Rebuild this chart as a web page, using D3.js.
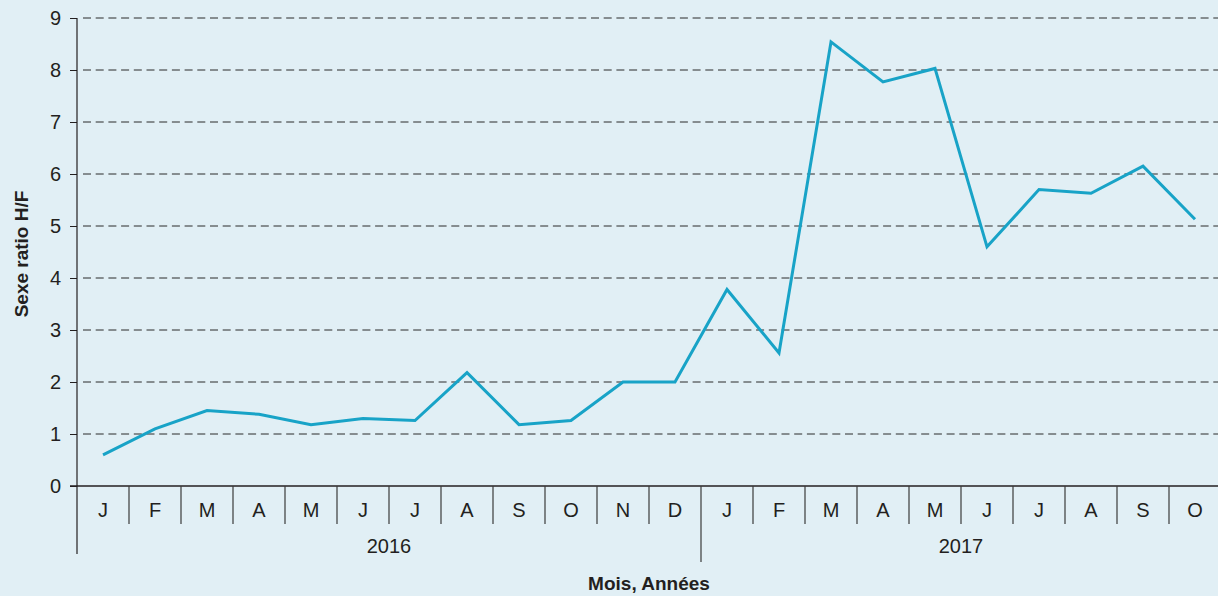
<!DOCTYPE html>
<html lang="fr">
<head>
<meta charset="UTF-8">
<title>Sexe ratio H/F</title>
<script src="https://cdn.jsdelivr.net/npm/d3@7"></script>
<style>
	body { margin: 0; background: #e1eff5; }
	svg { display: block; }
	text { font-family: "Liberation Sans Narrow", "Arial Narrow", "Liberation Sans", sans-serif; fill: #231f20; }
</style>
</head>
<body>
<div id="chart"></div>
<script>
	var months = ["J","F","M","A","M","J","J","A","S","O","N","D",
	              "J","F","M","A","M","J","J","A","S","O"];
	var years = [{label: "2016", count: 12}, {label: "2017", count: 10}];
	var ratio = [0.6, 1.1, 1.45, 1.38, 1.18, 1.3, 1.26, 2.18, 1.18, 1.26, 2.0, 2.0,
	             3.78, 2.56, 8.54, 7.77, 8.03, 4.6, 5.7, 5.63, 6.15, 5.13];
	var yTicks = [0, 1, 2, 3, 4, 5, 6, 7, 8, 9];

	var w = 1218, h = 596;
	var margin = {left: 77, top: 18};
	var bandW = 52;
	var plotH = 468;

	var svg = d3.select("#chart").append("svg")
		.attr("width", w).attr("height", h);

	svg.append("rect").attr("width", w).attr("height", h).attr("fill", "#e1eff5");

	var idx = months.map((d, i) => i);
	var x = d3.scaleBand()
		.domain(idx)
		.range([margin.left, margin.left + bandW * months.length]);
	var y = d3.scaleLinear()
		.domain([0, 9])
		.range([margin.top + plotH, margin.top]);

	// gridlines
	svg.append("g").selectAll("line")
		.data(yTicks.filter(d => d > 0))
		.enter().append("line")
		.attr("x1", margin.left + 6).attr("x2", w)
		.attr("y1", d => y(d)).attr("y2", d => y(d))
		.attr("stroke", "#2a2a2a")
		.attr("stroke-width", 1)
		.attr("stroke-dasharray", "8,4.7");

	// y axis
	var yAxis = svg.append("g")
		.attr("transform", `translate(${margin.left},0)`)
		.call(d3.axisLeft(y).tickValues(yTicks).tickSize(7).tickPadding(9).tickFormat(d3.format("d")));
	yAxis.select(".domain").remove();
	yAxis.selectAll(".tick line").attr("stroke", "#231f20");
	yAxis.selectAll(".tick text").style("font-size", "20px").attr("fill", "#231f20");
	svg.append("line")
		.attr("x1", margin.left).attr("x2", margin.left)
		.attr("y1", margin.top).attr("y2", 554)
		.attr("stroke", "#231f20").attr("stroke-width", 1.2);

	// x axis baseline
	var y0 = y(0);
	svg.append("line")
		.attr("x1", margin.left - 7).attr("x2", w)
		.attr("y1", y0).attr("y2", y0)
		.attr("stroke", "#231f20").attr("stroke-width", 1.5);

	// month separators
	svg.append("g").selectAll("line")
		.data(idx.slice(1))
		.enter().append("line")
		.attr("x1", d => x(d)).attr("x2", d => x(d))
		.attr("y1", y0).attr("y2", d => d === years[0].count ? 562 : 524)
		.attr("stroke", "#3a3a3a").attr("stroke-width", 1.2);

	// month labels
	svg.append("g").selectAll("text")
		.data(months)
		.enter().append("text")
		.attr("x", (d, i) => x(i) + x.bandwidth() / 2)
		.attr("y", 517)
		.attr("text-anchor", "middle")
		.style("font-size", "20px")
		.text(d => d);

	// year labels
	var start = 0;
	years.forEach(yr => {
		var a = x(start), b = x(start + yr.count - 1) + x.bandwidth();
		svg.append("text")
			.attr("x", (a + b) / 2).attr("y", 553)
			.attr("text-anchor", "middle")
			.style("font-size", "20px")
			.text(yr.label);
		start += yr.count;
	});

	// line
	var line = d3.line()
		.x((d, i) => x(i) + x.bandwidth() / 2)
		.y(d => y(d));
	svg.append("path")
		.datum(ratio)
		.attr("d", line)
		.attr("fill", "none")
		.attr("stroke", "#18a3c7")
		.attr("stroke-width", 3)
		.attr("stroke-linejoin", "miter");

	// titles
	svg.append("text")
		.attr("x", (x(0) + x(months.length - 1) + x.bandwidth()) / 2)
		.attr("y", 590)
		.attr("text-anchor", "middle")
		.style("font-size", "19px").style("font-weight", "bold")
		.text("Mois, Années");
	svg.append("text")
		.attr("transform", `translate(28,${y(4.5) + 2}) rotate(-90)`)
		.attr("text-anchor", "middle")
		.style("font-size", "19px").style("font-weight", "bold")
		.text("Sexe ratio H/F");
</script>
</body>
</html>
